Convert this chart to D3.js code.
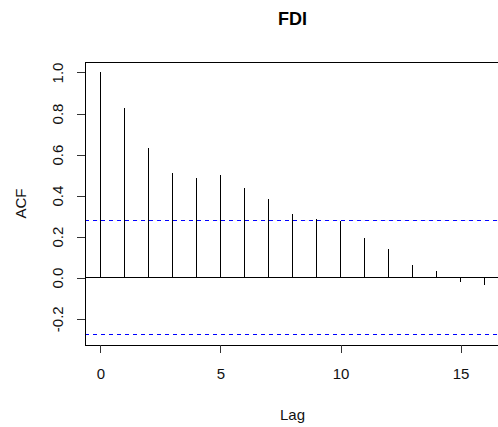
<!DOCTYPE html>
<html>
<head>
<meta charset="utf-8">
<script src="https://cdn.jsdelivr.net/npm/d3@7"></script>
<style>
  body { margin: 0; background: #fff; }
  svg { display: block; font-family: "Liberation Sans", Arial, sans-serif; }
</style>
</head>
<body>
<svg id="chart" width="498" height="427"></svg>
<script>
// ---- data ----
const lags = [0, 1, 2, 3, 4, 5, 6, 7, 8, 9, 10, 11, 12, 13, 14, 15, 16];
const acfValues = [1.0, 0.825, 0.631, 0.508, 0.484, 0.498, 0.438, 0.384, 0.309, 0.288, 0.277, 0.195, 0.141, 0.061, 0.031, -0.020, -0.034];
const confLimit = 0.277;
const xTicks = [0, 5, 10, 15];
const yTicks = [-0.2, 0.0, 0.2, 0.4, 0.6, 0.8, 1.0];
const yTickLabels = ["-0.2", "0.0", "0.2", "0.4", "0.6", "0.8", "1.0"];
const chartTitle = "FDI";
const xLabel = "Lag";
const yLabel = "ACF";

// ---- layout ----
const svg = d3.select("#chart");
const mLeft = 85, mTop = 62, mRight = 500, mBottom = 345;

const xMin = d3.min(lags), xMax = d3.max(lags);
const xPad = (xMax - xMin) * 0.04;
const yLo = Math.min(-confLimit, d3.min(acfValues)), yHi = 1;
const yPad = (yHi - yLo) * 0.04;

const x = d3.scaleLinear().domain([xMin - xPad, xMax + xPad]).range([mLeft, mRight]);
const y = d3.scaleLinear().domain([yLo - yPad, yHi + yPad]).range([mBottom, mTop]);

const ink = "#000";

// zero line
svg.append("line")
  .attr("x1", mLeft).attr("x2", mRight)
  .attr("y1", y(0)).attr("y2", y(0))
  .attr("stroke", ink).attr("stroke-width", 1)
  .attr("shape-rendering", "crispEdges");

// confidence lines
[confLimit, -confLimit].forEach(v => {
  svg.append("line")
    .attr("x1", mLeft).attr("x2", mRight)
    .attr("y1", y(v)).attr("y2", y(v))
    .attr("stroke", "#0000ff").attr("stroke-width", 1)
    .attr("stroke-dasharray", "4,4")
    .attr("shape-rendering", "crispEdges");
});

// acf spikes
svg.append("g").selectAll("line")
  .data(lags.map((l, i) => ({ lag: l, v: acfValues[i] })))
  .join("line")
  .attr("x1", d => x(d.lag)).attr("x2", d => x(d.lag))
  .attr("y1", y(0)).attr("y2", d => y(d.v))
  .attr("stroke", ink).attr("stroke-width", 1)
  .attr("shape-rendering", "crispEdges");

// box
svg.append("rect")
  .attr("x", mLeft).attr("y", mTop)
  .attr("width", mRight - mLeft).attr("height", mBottom - mTop)
  .attr("fill", "none").attr("stroke", ink).attr("stroke-width", 1)
  .attr("shape-rendering", "crispEdges");

// x axis
const xAxis = svg.append("g")
  .attr("transform", `translate(0,${mBottom})`)
  .call(d3.axisBottom(x).tickValues(xTicks).tickFormat(d3.format("d")).tickSize(8).tickPadding(15));
xAxis.select(".domain").remove();
xAxis.selectAll("line").attr("stroke", "#333").attr("shape-rendering", "crispEdges");
xAxis.selectAll("text").attr("font-size", 15).attr("fill", "#111")
  .attr("font-family", "Liberation Sans, Arial, sans-serif");

// y axis
const yAxis = svg.append("g")
  .attr("transform", `translate(${mLeft},0)`)
  .call(d3.axisLeft(y).tickValues(yTicks).tickFormat((d, i) => yTickLabels[i]).tickSize(8));
yAxis.select(".domain").remove();
yAxis.selectAll("line").attr("stroke", "#333").attr("shape-rendering", "crispEdges");
yAxis.selectAll("text")
  .attr("x", 0).attr("y", -22).attr("dy", null)
  .attr("transform", "rotate(-90)")
  .attr("text-anchor", "middle")
  .attr("font-size", 15).attr("fill", "#111")
  .attr("font-family", "Liberation Sans, Arial, sans-serif");

// title
svg.append("text")
  .attr("x", (mLeft + mRight) / 2).attr("y", 25)
  .attr("text-anchor", "middle")
  .attr("font-size", 18).attr("font-weight", "bold").attr("fill", "#000")
  .text(chartTitle);

// axis labels
svg.append("text")
  .attr("x", (mLeft + mRight) / 2).attr("y", 420)
  .attr("text-anchor", "middle")
  .attr("font-size", 15).attr("fill", "#111")
  .text(xLabel);

svg.append("text")
  .attr("transform", `translate(26,${(mTop + mBottom) / 2}) rotate(-90)`)
  .attr("text-anchor", "middle")
  .attr("font-size", 15).attr("fill", "#111")
  .text(yLabel);
</script>
</body>
</html>
